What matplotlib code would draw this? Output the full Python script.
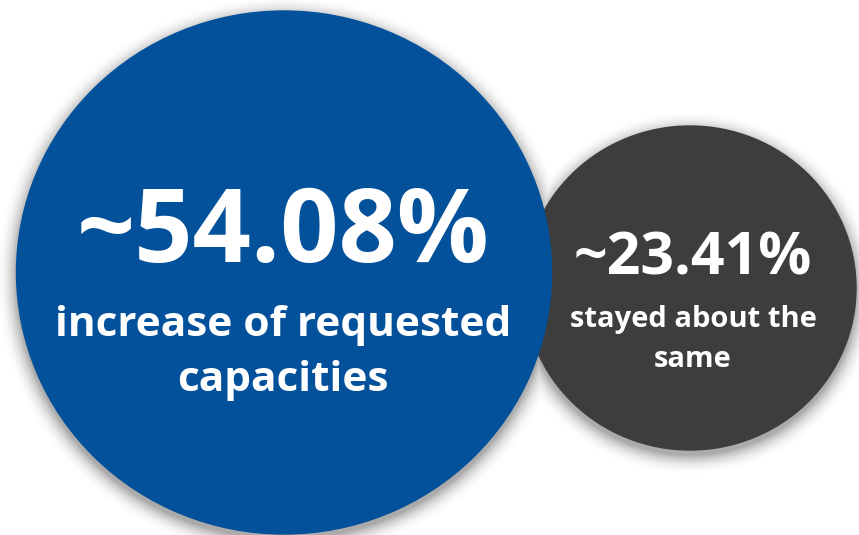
import numpy as np
import matplotlib.pyplot as plt
from matplotlib.patches import Ellipse

# ---- data ----
values = ["~54.08%", "~23.41%"]
captions = [["increase of requested", "capacities"], ["stayed about the", "same"]]
colors = ["#03519b", "#3d3d3d"]

# ---- layout (pixel space) ----
centers = [(284, 272.5), (690, 288)]
radii = [(267.5, 261.5), (166, 162)]
text_x = [283, 693]
value_sizes = [73.5, 42.5]
caption_sizes = [30.5, 21]
value_y = [262, 274.5]
caption_y = [[336, 391], [326.5, 367]]

W, H = 859, 535
fig = plt.figure(figsize=(W / 100, H / 100), dpi=100, facecolor="w")
ax = fig.add_axes([0, 0, 1, 1])
ax.set_xlim(0, W)
ax.set_ylim(H, 0)
ax.axis("off")

# soft drop shadow behind the circles
yy, xx = np.mgrid[0:H, 0:W] + 0.5
shadow = np.zeros((H, W))
for (cx, cy), (rx, ry) in zip(centers, radii):
    rho = np.sqrt(((xx - cx) / rx) ** 2 + ((yy - cy - 5) / ry) ** 2)
    d = (rho - 1) * (rx + ry) / 2
    a = np.clip(1 - d / 22, 0, 1) ** 2.2
    shadow = np.maximum(shadow, a)
rgba = np.zeros((H, W, 4))
rgba[..., 3] = shadow * 0.33
ax.imshow(rgba, extent=(0, W, H, 0), zorder=1, interpolation="bilinear")

# gray first, blue on top
for i in [1, 0]:
    (cx, cy), (rx, ry) = centers[i], radii[i]
    ax.add_patch(Ellipse((cx, cy), 2 * rx, 2 * ry, color=colors[i], zorder=2 + (1 - i)))
    ax.text(text_x[i], value_y[i], values[i], ha="center", va="baseline", color="white",
            fontsize=value_sizes[i], fontweight="bold", family="Open Sans", zorder=5)
    for line, y in zip(captions[i], caption_y[i]):
        ax.text(text_x[i], y, line, ha="center", va="baseline", color="white",
                fontsize=caption_sizes[i], fontweight="bold", family="Open Sans", zorder=5)

ax.set_aspect("auto")
fig.savefig("out.png", dpi=100)
